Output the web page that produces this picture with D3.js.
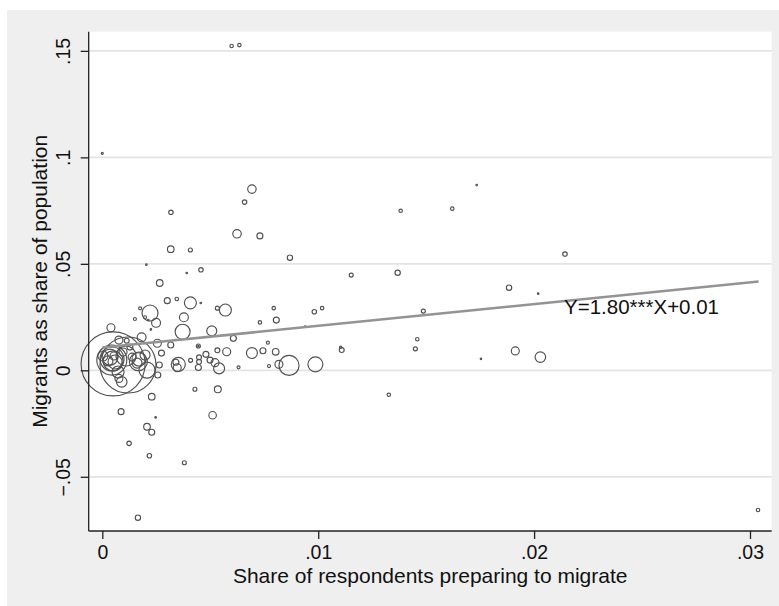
<!DOCTYPE html>
<html>
<head>
<meta charset="utf-8">
<script src="https://cdn.jsdelivr.net/npm/d3@7"></script>
<style>
  body { margin: 0; background: #fff; }
  svg { display: block; font-family: "Liberation Sans", Arial, sans-serif; }
</style>
</head>
<body>
<div id="chart"></div>
<script>
// share of respondents preparing to migrate
const shareX = [
  0.0000, 0.00693, 0.00659, 0.00318, 0.00624, 0.00730, 0.00317, 0.00408, 0.00869, 0.00204,
  0.00457, 0.00391, 0.00266, 0.00301, 0.00345, 0.00408, 0.00456, 0.00175, 0.00221, 0.00533,
  0.00570, 0.00794, 0.01018, 0.01734, 0.01382, 0.01621, 0.01153, 0.01368, 0.01884, 0.02019,
  0.00982, 0.00730, 0.00806, 0.00940, 0.01487, 0.00767, 0.01459, 0.01450, 0.01109, 0.01104,
  0.00693, 0.00744, 0.00803, 0.00772, 0.00818, 0.00865, 0.00987, 0.01754, 0.01913, 0.02029,
  0.01327, 0.03037, 0.00087, 0.00247, 0.00511, 0.00207, 0.00229, 0.00124, 0.00218, 0.00380,
  0.00165, 0.00599, 0.00635, 0.02143, 0.00040, 0.00378, 0.00372, 0.00607, 0.00445, 0.00445,
  0.00317, 0.00255, 0.00533, 0.00576, 0.00480, 0.00448, 0.00448, 0.00445, 0.00409, 0.00352,
  0.00347, 0.00341, 0.00499, 0.00522, 0.00541, 0.00631, 0.00535, 0.00429, 0.00229, 0.00274,
  0.00264, 0.00257, 0.00249, 0.00198, 0.00213, 0.00225, 0.00151, 0.00507, 0.00182, 0.00077,
  0.00113, 0.00090, 0.00077, 0.00207, 0.00050, 0.00119, 0.00044, 0.00045, 0.00050, 0.00036,
  0.00059, 0.00026, 0.00054, 0.00167, 0.00170, 0.00161, 0.00138, 0.00198, 0.00096, 0.00003,
  0.00073, 0.00128, 0.00110
];
// migrants as share of population
const shareY = [
  0.1019, 0.0851, 0.0790, 0.0742, 0.0641, 0.0631, 0.0569, 0.0565, 0.0529, 0.0496,
  0.0472, 0.0457, 0.0410, 0.0327, 0.0335, 0.0317, 0.0316, 0.0291, 0.0269, 0.0292,
  0.0283, 0.0292, 0.0292, 0.0870, 0.0749, 0.0759, 0.0447, 0.0458, 0.0388, 0.0360,
  0.0275, 0.0225, 0.0236, 0.0205, 0.0278, 0.0130, 0.0146, 0.0101, 0.0095, 0.0108,
  0.0081, 0.0092, 0.0087, 0.0020, 0.0028, 0.0023, 0.0028, 0.0054, 0.0091, 0.0062,
  -0.0115, -0.0656, -0.0194, -0.0221, -0.0211, -0.0265, -0.0291, -0.0343, -0.0401, -0.0434,
  -0.0692, 0.1523, 0.1527, 0.0546, 0.0200, 0.0249, 0.0181, 0.0150, 0.0114, 0.0114,
  0.0119, 0.0127, 0.0094, 0.0087, 0.0075, 0.0061, 0.0040, 0.0013, 0.0047, 0.0028,
  0.0012, 0.0038, 0.0048, 0.0036, 0.0009, 0.0014, -0.0089, -0.0089, -0.0124, 0.0081,
  0.0025, -0.0022, 0.0223, 0.0249, 0.0236, 0.0192, 0.0241, 0.0185, 0.0155, 0.0142,
  0.0139, -0.0054, -0.0038, 0.0001, 0.0030, 0.0025, 0.0048, 0.0053, 0.0044, 0.0062,
  0.0039, 0.0044, 0.0067, 0.0040, 0.0053, 0.0034, 0.0062, 0.0072, 0.0086, 0.0067,
  -0.0008, 0.0109, 0.0067
];
// population weights (marker area)
const weight = [
  1, 18, 5, 5, 18, 9, 11, 4, 7, 0.6,
  5, 0.6, 11, 9, 3, 36, 0.6, 2.3, 64, 4,
  36, 3, 3, 0.6, 3, 3, 4, 7, 7, 0.6,
  5, 3, 9, 0.6, 4, 2.3, 3, 4, 6, 1.4,
  30, 9, 11, 2.3, 16, 100, 56, 0.6, 16, 28,
  3, 3, 9, 0.6, 14, 11, 9, 5, 5, 4,
  7, 3, 3, 5, 16, 20, 56, 9, 4, 0.5,
  9, 16, 6, 16, 9, 6, 6, 9, 4, 49,
  16, 9, 9, 16, 30, 2.3, 12, 4, 11, 9,
  9, 9, 20, 2.3, 0.6, 0.6, 2.3, 25, 20, 16,
  6, 28, 16, 64, 1024, 784, 225, 144, 100, 64,
  49, 25, 16, 81, 49, 25, 16, 25, 16, 25,
  36, 9, 100
];
const fitX = [0, 0.0304];
const fitY = [0.0107, 0.0417];
const xTicks = [0, 0.01, 0.02, 0.03];
const xTickLabels = ["0", ".01", ".02", ".03"];
const yTicks = [-0.05, 0, 0.05, 0.1, 0.15];
const yTickLabels = ["\u2212.05", "0", ".05", ".1", ".15"];

const W = 779, H = 606;
const plot = {left: 88.7, right: 771.7, top: 31.7, bottom: 531};

const svg = d3.select("#chart").append("svg")
    .attr("width", W)
    .attr("height", H);

svg.append("rect")
    .attr("x", 7).attr("y", 10)
    .attr("width", W - 7).attr("height", H - 10)
    .attr("fill", "#efefef");

svg.append("rect")
    .attr("x", plot.left).attr("y", plot.top)
    .attr("width", plot.right - plot.left).attr("height", plot.bottom - plot.top)
    .attr("fill", "#fff");

const x = d3.scaleLinear()
    .domain([-0.00063, 0.031005])
    .range([plot.left, plot.right]);
const y = d3.scaleLinear()
    .domain([-0.07545, 0.159])
    .range([plot.bottom, plot.top]);
const r = d3.scaleSqrt()
    .domain([0, 1024])
    .range([0, 32]);

// horizontal grid
svg.append("g")
    .selectAll("line")
    .data(yTicks)
    .enter().append("line")
    .attr("x1", plot.left).attr("x2", plot.right)
    .attr("y1", d => y(d)).attr("y2", d => y(d))
    .attr("stroke", "#e3e3e3")
    .attr("stroke-width", 1.8);

// markers
const points = shareX.map((d, i) => ({x: d, y: shareY[i], w: weight[i]}));
svg.append("g")
    .selectAll("circle")
    .data(points)
    .enter().append("circle")
    .attr("cx", d => x(d.x))
    .attr("cy", d => y(d.y))
    .attr("r", d => Math.max(r(d.w), 0.6))
    .attr("fill", "none")
    .attr("stroke", "#505050")
    .attr("stroke-width", 1.15);

// fitted line
svg.append("path")
    .datum(fitX.map((d, i) => [d, fitY[i]]))
    .attr("d", d3.line().x(d => x(d[0])).y(d => y(d[1])))
    .attr("stroke", "#939393")
    .attr("stroke-width", 2.6)
    .attr("fill", "none");

svg.append("text")
    .attr("x", 564).attr("y", 314)
    .attr("font-size", 20.5)
    .attr("fill", "#111")
    .text("Y=1.80***X+0.01");

// axes
const yAxis = svg.append("g")
    .attr("transform", `translate(${plot.left},0)`)
    .call(d3.axisLeft(y).tickValues(yTicks).tickSize(8).tickSizeOuter(0)
        .tickFormat((d, i) => yTickLabels[i]));
yAxis.select(".domain").attr("d", `M0,${plot.top}V${plot.bottom}`);
yAxis.selectAll(".tick text")
    .attr("x", 0).attr("y", -18.5).attr("dy", 0)
    .attr("transform", "rotate(-90)")
    .attr("text-anchor", "middle");

const xAxis = svg.append("g")
    .attr("transform", `translate(0,${plot.bottom})`)
    .call(d3.axisBottom(x).tickValues(xTicks).tickSize(8).tickSizeOuter(0)
        .tickFormat((d, i) => xTickLabels[i]));
xAxis.select(".domain").attr("d", `M${plot.left},0H${plot.right}`);
xAxis.selectAll(".tick text").attr("y", 28).attr("dy", 0);

svg.selectAll(".domain, .tick line").attr("stroke", "#222").attr("stroke-width", 1.3);
svg.selectAll(".tick text").attr("font-size", 19.5).attr("fill", "#111")
    .attr("font-family", "Liberation Sans, Arial, sans-serif");

svg.append("text")
    .attr("x", (plot.left + plot.right) / 2).attr("y", 583)
    .attr("text-anchor", "middle")
    .attr("font-size", 21)
    .attr("fill", "#111")
    .text("Share of respondents preparing to migrate");

svg.append("text")
    .attr("transform", `translate(47,${(plot.top + plot.bottom) / 2}) rotate(-90)`)
    .attr("text-anchor", "middle")
    .attr("font-size", 21)
    .attr("fill", "#111")
    .text("Migrants as share of population");
</script>
</body>
</html>
